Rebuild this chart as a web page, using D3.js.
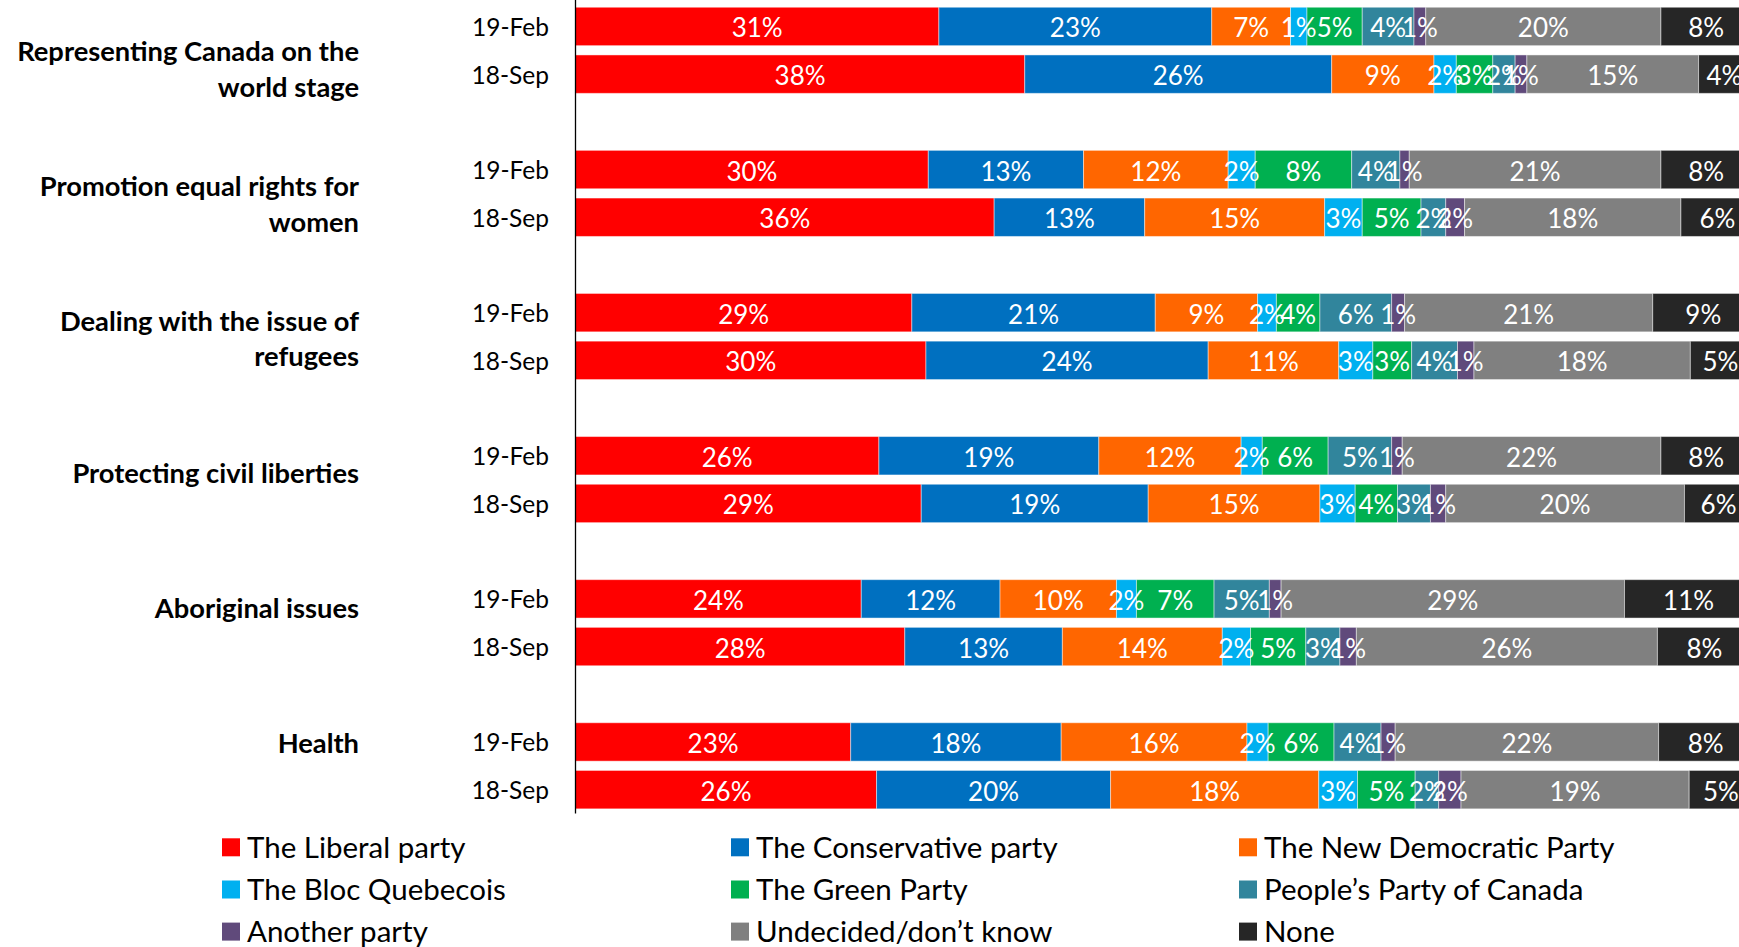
<!DOCTYPE html>
<html>
<head>
<meta charset="utf-8">
<script src="https://cdn.jsdelivr.net/npm/d3@7"></script>
<style>
  html, body { margin: 0; padding: 0; background: #fff; }
  svg { display: block; }
  text { font-family: Lato, "Open Sans", sans-serif; }
</style>
</head>
<body>
<svg id="chart" width="1739" height="947"></svg>
<script>
// ---- data ----
const categories = [
  "Representing Canada on the world stage",
  "Promotion equal rights for women",
  "Dealing with the issue of refugees",
  "Protecting civil liberties",
  "Aboriginal issues",
  "Health"
];
const categoryLines = [
  ["Representing Canada on the", "world stage"],
  ["Promotion equal rights for", "women"],
  ["Dealing with the issue of", "refugees"],
  ["Protecting civil liberties"],
  ["Aboriginal issues"],
  ["Health"]
];
const waves = ["19-Feb", "18-Sep"];
const parties = [
  "The Liberal party", "The Conservative party", "The New Democratic Party",
  "The Bloc Quebecois", "The Green Party", "People\u2019s Party of Canada",
  "Another party", "Undecided/don\u2019t know", "None"
];
const partyColors = ["#FF0000", "#0070C0", "#FF6600", "#00B0F0", "#00B050", "#31859C", "#604A7B", "#808080", "#262626"];

// values per party, order: [cat0 19-Feb, cat0 18-Sep, cat1 19-Feb, cat1 18-Sep, ...]
const liberal      = [30.9, 38.2, 30.0, 35.6, 28.6, 29.8, 25.8, 29.4, 24.3, 28.0, 23.4, 25.6];
const conservative = [23.2, 26.1, 13.2, 12.8, 20.7, 24.0, 18.7, 19.3, 11.8, 13.4, 17.9, 19.9];
const ndp          = [ 6.7,  8.7, 12.3, 15.3,  8.7, 11.1, 12.1, 14.6,  9.9, 13.6, 15.8, 17.7];
const bloc         = [ 1.4,  1.9,  2.3,  3.2,  1.6,  2.9,  1.8,  3.0,  1.7,  2.4,  1.8,  3.3];
const green        = [ 4.7,  3.1,  8.2,  5.0,  3.7,  3.3,  5.6,  3.6,  6.6,  4.7,  5.6,  4.9];
const ppc          = [ 4.4,  1.9,  4.1,  2.1,  6.1,  3.9,  5.4,  2.8,  4.7,  2.9,  4.0,  2.0];
const another      = [ 1.0,  1.0,  0.8,  1.6,  1.1,  1.4,  0.9,  1.3,  1.0,  1.4,  1.2,  1.9];
const undecided    = [20.0, 14.6, 21.4, 18.4, 21.1, 18.4, 22.0, 20.3, 29.2, 25.6, 22.4, 19.4];
const none         = [ 7.7,  4.4,  7.7,  6.2,  8.6,  5.1,  7.7,  5.8, 10.9,  8.0,  8.0,  5.4];
const series = [liberal, conservative, ndp, bloc, green, ppc, another, undecided, none];

// ---- build table ----
const rows = [];
categories.forEach((c, ci) => {
  waves.forEach((w, wi) => {
    const idx = ci * 2 + wi;
    const r = { category: c, wave: w };
    parties.forEach((p, pi) => { r[p] = series[pi][idx]; });
    rows.push(r);
  });
});

const svg = d3.select("#chart");

// ---- scales ----
const x = d3.scaleLinear().domain([0, 100]).range([575.5, 575.5 + 1176]);
const yGroup = d3.scaleBand().domain(categories).range([-45.1, 813.5]).paddingInner(0).paddingOuter(0);
const slots = ["_blank", ...waves];
const yWave = d3.scaleBand().domain(slots).range([0, yGroup.bandwidth()]).paddingInner(0.195).paddingOuter(0.0975);
const yLabel = d3.scalePoint().domain(categories).range([68.5, 742.5]);
const color = d3.scaleOrdinal().domain(parties).range(partyColors);

const stack = d3.stack().keys(parties);
const stacked = stack(rows);

const rowY = d => yGroup(d.data.category) + yWave(d.data.wave);

// ---- bars ----
const gBars = svg.append("g");
stacked.forEach(layer => {
  gBars.selectAll(null).data(layer).enter().append("rect")
    .attr("x", d => x(d[0]))
    .attr("y", d => rowY(d))
    .attr("width", d => x(d[1]) - x(d[0]))
    .attr("height", yWave.bandwidth())
    .attr("fill", color(layer.key))
    .attr("stroke", "rgba(255,255,255,0.45)")
    .attr("stroke-width", 1);
});

// ---- bar labels ----
const gLab = svg.append("g");
stacked.forEach(layer => {
  gLab.selectAll(null).data(layer).enter().append("text")
    .attr("x", d => (x(d[0]) + x(d[1])) / 2)
    .attr("y", d => rowY(d) + yWave.bandwidth() / 2 + 1)
    .attr("text-anchor", "middle")
    .attr("dominant-baseline", "central")
    .attr("fill", "#fff")
    .attr("font-size", 26)
    .text(d => Math.round(d[1] - d[0]) + "%");
});

// ---- axis line ----
svg.append("line")
  .attr("x1", x(0)).attr("x2", x(0))
  .attr("y1", 0).attr("y2", yGroup.range()[1])
  .attr("stroke", "#000").attr("stroke-width", 1.3);

// ---- wave labels ----
const gWave = svg.append("g");
rows.forEach(r => {
  gWave.append("text")
    .attr("x", 549)
    .attr("y", yGroup(r.category) + yWave(r.wave) + yWave.bandwidth() / 2)
    .attr("text-anchor", "end")
    .attr("dominant-baseline", "central")
    .attr("font-size", 24.5)
    .attr("fill", "#000")
    .text(r.wave);
});

// ---- category labels ----
const gCat = svg.append("g");
categories.forEach((c, ci) => {
  const lines = categoryLines[ci];
  const lh = 35.5;
  const cy = yLabel(c);
  lines.forEach((ln, li) => {
    gCat.append("text")
      .attr("x", 359)
      .attr("y", cy + (li - (lines.length - 1) / 2) * lh)
      .attr("text-anchor", "end")
      .attr("dominant-baseline", "central")
      .attr("font-size", 27.3)
      .attr("font-weight", "bold")
      .attr("fill", "#000")
      .text(ln);
  });
});

// ---- legend ----
const legCols = [222, 731, 1239];
const legRows = [847.3, 889.5, 931.6];
const gLeg = svg.append("g");
parties.forEach((p, i) => {
  const cx = legCols[i % 3], cy = legRows[Math.floor(i / 3)];
  gLeg.append("rect")
    .attr("x", cx).attr("y", cy - 9)
    .attr("width", 18).attr("height", 18)
    .attr("fill", color(p));
  gLeg.append("text")
    .attr("x", cx + 25).attr("y", cy - 1)
    .attr("dominant-baseline", "central")
    .attr("font-size", 29.5)
    .attr("fill", "#000")
    .text(p);
});
</script>
</body>
</html>
